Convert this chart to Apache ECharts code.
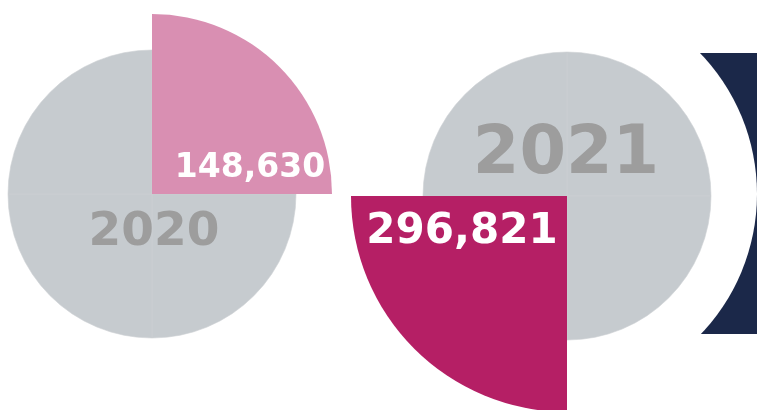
<!DOCTYPE html>
<html>
<head>
<meta charset="utf-8">
<script src="https://cdn.jsdelivr.net/npm/echarts@6/dist/echarts.min.js"></script>
<style>
  html, body { margin: 0; padding: 0; background: #fff; }
  #chart { width: 757px; height: 410px; }
</style>
</head>
<body>
<div id="chart"></div>
<script>
  // data
  const years = ['2020', '2021'];
  const totals = [148630, 296821];
  const quarters = [1, 1, 1, 1];
  const sliceColors = ['#d98fb2', '#b51f65'];

  const GREY = '#c6cbcf';
  const YEAR_TEXT = '#9d9d9d';
  const FONT = '"DejaVu Sans", "Noto Sans", sans-serif';

  const fmt = (v) => Number(v).toLocaleString('en-US');

  // grey full circle, split in 4 so the faint seams show
  function greyPie (center, year, fontSize, dx, dy) {
    return {
      type: 'pie',
      center: center,
      radius: 144,
      startAngle: 90,
      silent: true,
      itemStyle: { color: GREY, borderColor: '#ccd0d3', borderWidth: 0.6 },
      label: { show: false },
      labelLine: { show: false },
      labelLayout: { dx: dx, dy: dy },
      data: quarters.map((q, i) => ({
        value: q,
        name: year + '-' + i,
        label: i === 0 ? {
          show: true,
          position: 'center',
          formatter: year,
          color: YEAR_TEXT,
          fontFamily: FONT,
          fontWeight: 'bold',
          fontSize: fontSize
        } : { show: false }
      }))
    };
  }

  // one coloured quarter with a bigger radius
  function quarterPie (center, r, start, end, idx, fontSize, dx, dy) {
    return {
      type: 'pie',
      center: center,
      radius: r,
      startAngle: start,
      endAngle: end,
      silent: true,
      itemStyle: { color: sliceColors[idx] },
      label: {
        show: true,
        position: 'center',
        formatter: (p) => fmt(p.value),
        color: '#fff',
        fontFamily: FONT,
        fontWeight: 'bold',
        fontSize: fontSize
      },
      labelLine: { show: false },
      labelLayout: { dx: dx, dy: dy },
      data: [{ value: totals[idx], name: years[idx] }]
    };
  }

  const chart = echarts.init(document.getElementById('chart'));
  chart.setOption({
    backgroundColor: '#fff',
    animation: false,
    graphic: [
      // navy piece of the next figure, cut by a white ring
      { type: 'rect', z: -10, shape: { x: 660, y: 53, width: 100, height: 281 }, style: { fill: '#1b2849' } },
      { type: 'circle', z: -9, shape: { cx: 554, cy: 194, r: 203 }, style: { fill: '#fff' } }
    ],
    series: [
      greyPie([152, 194], years[0], 47, 2, 39),
      quarterPie([152, 194], 180, 90, 0, 0, 33, 98, -26),
      greyPie([567, 196], years[1], 67, -1, -40),
      quarterPie([567, 196], 216, 270, 180, 1, 42, -105, 36)
    ]
  });
</script>
</body>
</html>
